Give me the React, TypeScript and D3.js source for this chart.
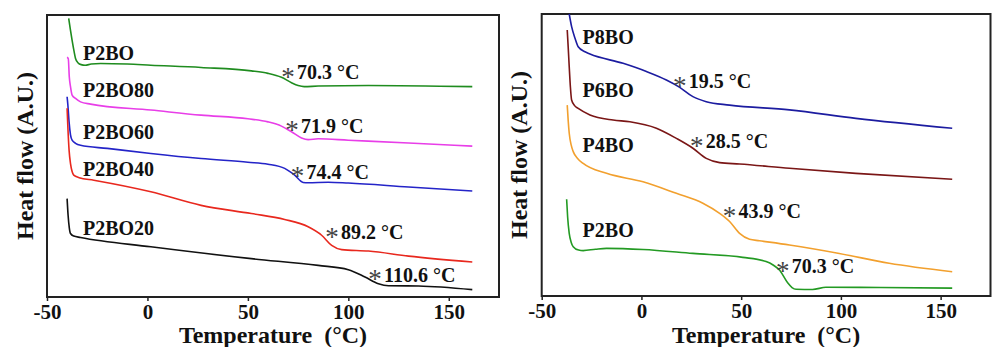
import React, { useEffect, useRef } from 'react';
import * as d3 from 'd3';

// temperature ticks shared by both panels
const tempTicks = [-50, 0, 50, 100, 150];

// left panel: P2BO blends, [temperature °C, heat flow A.U.]
const p2boL: [number, number][] = [
  [-39.2, 98.8], [-38.4, 95], [-37.5, 91], [-36.5, 87], [-35.8, 84.6], [-34.5, 83], [-33, 82.4], [-31, 82.2],
  [-28, 82.6], [-23.3, 82.8], [-10, 82.6], [1.7, 82.2], [26.7, 81.4], [51.7, 80.2], [60, 79.3], [66.7, 77.9],
  [71.7, 76], [75, 75], [78, 74.6], [85, 74.8], [110, 75], [161.7, 74.6],
];
const p2bo80: [number, number][] = [
  [-40, 85], [-39.4, 84.5], [-38.9, 78], [-38.3, 74.6], [-37.5, 71.6], [-35.8, 70.4], [-33.3, 69.2], [-28.3, 68.4],
  [1.7, 66.3], [26.7, 64.5], [50, 63.2], [60, 62.1], [66.7, 60.6], [71.7, 58.6], [76.7, 56.4], [80, 55.8],
  [85, 56.1], [100, 55.6], [130, 54.6], [161.7, 53.5],
];
const p2bo60: [number, number][] = [
  [-40, 71], [-39.6, 68], [-39, 62], [-38.3, 57.5], [-37.5, 55.6], [-35.8, 54.5], [-33.3, 53.8], [-20, 52.7],
  [1.7, 50.9], [26.7, 49.1], [50, 47.8], [60, 47.1], [68.3, 45.6], [73.3, 43.2], [77.5, 40.6], [80, 40.5],
  [90, 40.7], [100, 40.4], [130, 39], [161.7, 37.6],
];
const p2bo40: [number, number][] = [
  [-40, 66.9], [-39.6, 60], [-39, 52], [-38.3, 47.3], [-37.5, 44.5], [-36.7, 43.2], [-34, 42.3], [-26.7, 41.4],
  [1.7, 37.3], [26.7, 32.5], [51.7, 29.6], [68.3, 27.5], [80, 24.9], [86.7, 21.9], [91.7, 18.3], [96.7, 16.8],
  [110, 16.3], [130, 14.5], [161.7, 12.4],
];
const p2bo20: [number, number][] = [
  [-40, 34.9], [-39.5, 29], [-38.9, 24.5], [-38.3, 22.5], [-36.7, 21.6], [-33.3, 21.1], [1.7, 17.8], [51.7, 13.6],
  [85, 11.2], [100, 9.7], [108.3, 7.1], [115, 4.7], [120, 4.0], [135, 3.9], [161.7, 2.6],
];

// right panel: PnBO series
const p8bo: [number, number][] = [
  [-36.2, 100], [-35, 95.5], [-33.3, 91.4], [-31.7, 88.4], [-28.3, 86.6], [-25.8, 85.8], [-9.2, 82.5], [2.5, 79.6],
  [12.5, 76.6], [19.2, 74], [25.8, 70.7], [32.5, 68.9], [44.2, 67.7], [74.2, 66], [107.5, 63], [155.8, 59.5],
];
const p6bo: [number, number][] = [
  [-37.2, 94.3], [-36.7, 88], [-36.2, 81.3], [-35.6, 74], [-35, 69.5], [-33.5, 67.5], [-31.7, 66.5], [-25.8, 64.2],
  [-14.2, 62.4], [-5.8, 61.8], [7.5, 59.5], [17.5, 55.9], [25.8, 52.4], [32.5, 48.8], [39.2, 47.3], [49.2, 46.8],
  [74.2, 45.3], [107.5, 43.5], [155.8, 41.4],
];
const p4bo: [number, number][] = [
  [-37.2, 67.7], [-36.7, 62], [-36.2, 57.7], [-35.2, 53.5], [-34.2, 51.2], [-32, 48.8], [-29.2, 47], [-17.5, 43.5],
  [0.8, 40.5], [17.5, 36.4], [30.8, 32.9], [39.2, 29.3], [44.2, 26.4], [49.2, 22.2], [54.2, 20.1], [59.2, 19.6],
  [74.2, 18.1], [99.2, 15.1], [124.2, 11.6], [155.8, 8.6],
];
const p2boR: [number, number][] = [
  [-37.5, 34.3], [-37, 28], [-36.2, 22.2], [-35.2, 19], [-34.2, 17.5], [-31.5, 16.3], [-29.2, 16.1], [-23, 16.6],
  [-17.5, 16.9], [0.8, 16.5], [25.8, 15.1], [50.8, 13.7], [62.5, 12.2], [66, 11], [69.2, 9.2], [73.3, 4.7],
  [75.5, 3], [77.5, 2.4], [85.8, 2.3], [92.5, 3.1], [120, 3.0], [155.8, 2.8],
];

const leftNames = ['P2BO', 'P2BO80', 'P2BO60', 'P2BO40', 'P2BO20'];
const leftTg = ['70.3', '71.9', '74.4', '89.2', '110.6'];
const rightNames = ['P8BO', 'P6BO', 'P4BO', 'P2BO'];
const rightTg = ['19.5', '28.5', '43.9', '70.3'];

const FONT = '"Liberation Serif", "Times New Roman", serif';

type Panel = {
  x0: number; x1: number; top: number; bottom: number;
  series: [number, number][][];
  colors: string[];
  names: string[];
  nameAt: [number, number][];
  tg: string[];
  tgAt: [number, number][];
  yLabelX: number;
};

const drawPanel = (svg: d3.Selection<SVGSVGElement, unknown, null, undefined>, p: Panel) => {
  const x = d3.scaleLinear().domain([-50, 175]).range([p.x0, p.x1]);
  const y = d3.scaleLinear().domain([0, 100]).range([p.bottom, p.top]);
  const g = svg.append('g');

  const axis = g.append('g')
    .attr('transform', `translate(0,${p.bottom})`)
    .call(d3.axisBottom(x).tickValues(tempTicks).tickSize(4).tickPadding(3).tickFormat(d => String(d)));
  axis.select('.domain').remove();
  axis.selectAll('line').attr('stroke', '#222').attr('stroke-width', 1.5);
  axis.selectAll('text')
    .attr('fill', '#111')
    .style('font-family', FONT)
    .style('font-weight', 'bold')
    .style('font-size', '21px');

  g.append('rect')
    .attr('x', p.x0).attr('y', p.top)
    .attr('width', p.x1 - p.x0).attr('height', p.bottom - p.top)
    .attr('fill', 'none').attr('stroke', '#222').attr('stroke-width', 2);

  const line = d3.line<[number, number]>()
    .x(d => x(d[0]))
    .y(d => y(d[1]))
    .curve(d3.curveMonotoneX);

  p.series.forEach((s, i) => {
    g.append('path')
      .attr('d', line(s))
      .attr('fill', 'none')
      .attr('stroke', p.colors[i])
      .attr('stroke-width', 1.6);
  });

  p.names.forEach((n, i) => {
    g.append('text')
      .attr('x', x(p.nameAt[i][0]))
      .attr('y', y(p.nameAt[i][1]))
      .attr('fill', '#111')
      .style('font-family', FONT)
      .style('font-weight', 'bold')
      .style('font-size', '20px')
      .text(n);
  });

  p.tg.forEach((t, i) => {
    const ax = x(p.tgAt[i][0]);
    const ay = y(p.tgAt[i][1]);
    g.append('text')
      .attr('x', ax).attr('y', ay + 13)
      .attr('text-anchor', 'middle')
      .attr('fill', '#444')
      .style('font-family', FONT)
      .style('font-size', '27px')
      .text('*');
    g.append('text')
      .attr('x', ax + 9).attr('y', ay + 6.5)
      .attr('fill', '#111')
      .style('font-family', FONT)
      .style('font-weight', 'bold')
      .style('font-size', '20px')
      .text(`${t} °C`);
  });

  g.append('text')
    .attr('x', (p.x0 + p.x1) / 2)
    .attr('y', 343)
    .attr('text-anchor', 'middle')
    .attr('fill', '#111')
    .style('font-family', FONT)
    .style('font-weight', 'bold')
    .style('font-size', '24px')
    .style('white-space', 'pre')
    .text('Temperature  (°C)');

  g.append('text')
    .attr('transform', `translate(${p.yLabelX},${(p.top + p.bottom) / 2}) rotate(-90)`)
    .attr('text-anchor', 'middle')
    .attr('fill', '#111')
    .style('font-family', FONT)
    .style('font-weight', 'bold')
    .style('font-size', '24px')
    .text('Heat flow (A.U.)');
};

const App = () => {
  const svgRef = useRef<SVGSVGElement>(null);

  useEffect(() => {
    const svg = d3.select(svgRef.current!);
    svg.selectAll('*').remove();

    drawPanel(svg, {
      x0: 47, x1: 499, top: 15, bottom: 297,
      series: [p2boL, p2bo80, p2bo60, p2bo40, p2bo20],
      colors: ['#1f8c1f', '#e83ee8', '#2424c8', '#e8281e', '#111111'],
      names: leftNames,
      nameAt: [[-32.1, 84], [-32.1, 71], [-32.1, 55.9], [-32.1, 43], [-32.1, 22]],
      tg: leftTg,
      tgAt: [[70, 79.5], [72, 60.6], [74.7, 44.3], [91.9, 22.7], [113.3, 7.8]],
      yLabelX: 33,
    });

    drawPanel(svg, {
      x0: 541.7, x1: 990.5, top: 14, bottom: 296,
      series: [p8bo, p6bo, p4bo, p2boR],
      colors: ['#1c1ca0', '#7a1616', '#f2a02e', '#239a23'],
      names: rightNames,
      nameAt: [[-29.5, 89.3], [-29.5, 70.6], [-29.5, 51.2], [-29.5, 20.8]],
      tg: rightTg,
      tgAt: [[19.2, 75.9], [27.7, 54.7], [44.2, 29.8], [70.8, 10.4]],
      yLabelX: 527,
    });
  }, []);

  return (
    <div style={{ position: 'absolute', left: 0, top: 0 }}>
      <svg ref={svgRef} width={992} height={347} style={{ display: 'block', background: '#fff' }}></svg>
    </div>
  );
};

export default App;
